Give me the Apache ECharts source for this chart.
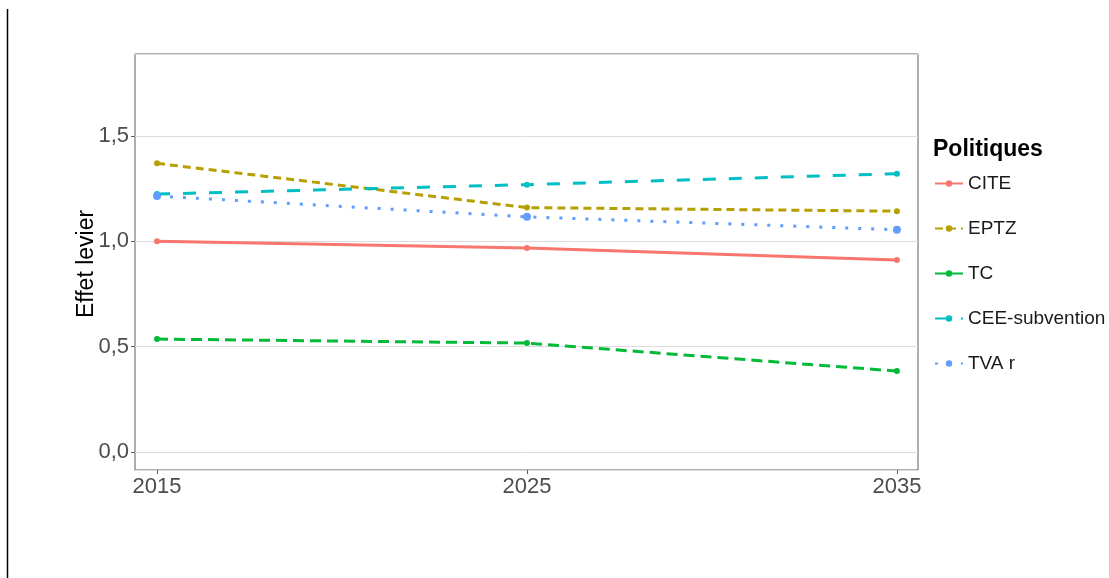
<!DOCTYPE html>
<html>
<head>
<meta charset="utf-8">
<script src="https://cdn.jsdelivr.net/npm/echarts@6/dist/echarts.min.js"></script>
<style>
html,body{margin:0;padding:0;background:#fff;}
#chart{width:1109px;height:578px;}
</style>
</head>
<body>
<div id="chart"></div>
<script>
// Data
var years = [2015, 2025, 2035];
var xTicks = [2015, 2025, 2035];
var seriesNames = ['CITE', 'EPTZ', 'TC', 'CEE-subvention', 'TVA r'];
var cite = [1.000, 0.968, 0.911];
var eptz = [1.370, 1.160, 1.143];
var tc = [0.536, 0.517, 0.384];
var cee = [1.224, 1.269, 1.321];
var tva = [1.215, 1.116, 1.055];
var yTitle = 'Effet levier';
var legendTitle = 'Politiques';

var colors = ['#F8766D', '#B79F00', '#00BA38', '#00BFC4', '#619CFF'];
var dashes = ['solid', [8, 5], [11, 6], [13, 13], [3, 10]];
var sizes = [6, 6, 6, 6, 8];
var values = [cite, eptz, tc, cee, tva];

function pairs(v) { return years.map(function (y, i) { return [y, v[i]]; }); }

var FONT = '"Liberation Sans", Arial, sans-serif';

var series = seriesNames.map(function (n, i) {
  return {
    name: n,
    type: 'line',
    data: pairs(values[i]),
    symbol: 'circle',
    symbolSize: sizes[i],
    itemStyle: { color: colors[i] },
    lineStyle: { color: colors[i], width: 3, type: dashes[i], cap: 'butt' },
    z: 2 + i
  };
});

var chart = echarts.init(document.getElementById('chart'), null, { renderer: 'canvas' });
chart.setOption({
  backgroundColor: '#ffffff',
  animation: false,
  textStyle: { fontFamily: FONT },
  title: {
    text: legendTitle,
    left: 928, top: 133,
    textStyle: { fontFamily: FONT, fontWeight: 'bold', fontSize: 23, color: '#000' }
  },
  legend: {
    orient: 'vertical',
    left: 929, top: 169,
    itemWidth: 28, itemHeight: 8, itemGap: 26,
    textStyle: { fontFamily: FONT, fontSize: 19, color: '#1a1a1a' },
    data: seriesNames
  },
  grid: {
    left: 135, right: 191, top: 54, bottom: 108,
    show: true, borderColor: '#5e5e5e', borderWidth: 1,
    outerBoundsMode: 'none', containLabel: false
  },
  xAxis: {
    type: 'value',
    min: 2014.405, max: 2035.57,
    axisLine: { show: false, onZero: false },
    splitLine: { show: false },
    axisTick: { show: true, length: 4, lineStyle: { color: '#5e5e5e' }, customValues: xTicks },
    axisLabel: {
      customValues: xTicks, fontSize: 22, color: '#4d4d4d', margin: 6, fontFamily: FONT,
      formatter: function (v) { return String(Math.round(v)); }
    }
  },
  yAxis: {
    type: 'value',
    min: -0.0854, max: 1.889,
    minInterval: 0.5, maxInterval: 0.5,
    axisLine: { show: false, onZero: false },
    axisTick: { show: true, length: 4, lineStyle: { color: '#5e5e5e' } },
    splitLine: { show: true, lineStyle: { color: '#dcdcdc', width: 1 } },
    axisLabel: {
      fontSize: 22, color: '#4d4d4d', margin: 6, fontFamily: FONT,
      showMinLabel: false, showMaxLabel: false,
      formatter: function (v) {
        var r = Math.round(v * 2) / 2;
        if (Math.abs(r - v) > 1e-6) return '';
        return r.toFixed(1).replace('.', ',');
      }
    }
  },
  graphic: [{
    type: 'line',
    shape: { x1: 7.5, y1: 9, x2: 7.5, y2: 578 },
    style: { stroke: '#000', lineWidth: 1.5 },
    silent: true
  }, {
    type: 'text',
    x: 87, y: 264,
    rotation: Math.PI / 2,
    style: {
      text: yTitle, fontSize: 23, fontFamily: FONT, fill: '#000',
      align: 'center', verticalAlign: 'middle'
    },
    silent: true
  }],
  series: series
});
</script>
</body>
</html>
